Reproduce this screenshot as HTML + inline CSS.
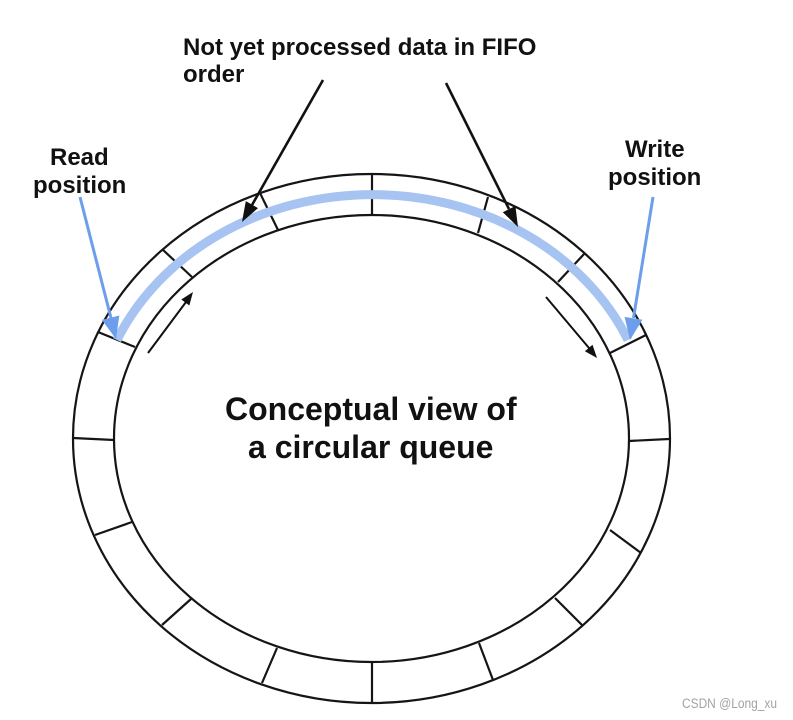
<!DOCTYPE html>
<html>
<head>
<meta charset="utf-8">
<style>
  html, body { margin: 0; padding: 0; background: #ffffff; }
  body { width: 793px; height: 720px; overflow: hidden; }
  svg { display: block; }
</style>
</head>
<body>
<svg width="793" height="720" viewBox="0 0 793 720" xmlns="http://www.w3.org/2000/svg">
  <rect x="0" y="0" width="793" height="720" fill="#ffffff"/>

  <!-- Ring ellipses -->
  <ellipse cx="371.5" cy="438.5" rx="298.5" ry="264.5" fill="none" stroke="#151515" stroke-width="2.2"/>
  <ellipse cx="371.5" cy="438.5" rx="257.5" ry="223.5" fill="none" stroke="#151515" stroke-width="2.2"/>

  <!-- Dividers -->
  <g stroke="#151515" stroke-width="2.2" stroke-linecap="butt">
    <line x1="372" y1="174" x2="372" y2="215"/>
    <line x1="260" y1="193" x2="278" y2="230"/>
    <line x1="162" y1="249" x2="192" y2="277"/>
    <line x1="98" y1="332" x2="135" y2="347"/>
    <line x1="73" y1="438" x2="114" y2="440"/>
    <line x1="95" y1="535" x2="132" y2="522"/>
    <line x1="162" y1="625" x2="191" y2="599"/>
    <line x1="262" y1="683" x2="277" y2="648"/>
    <line x1="372" y1="703" x2="372" y2="663"/>
    <line x1="493" y1="680" x2="479" y2="643"/>
    <line x1="582" y1="625" x2="555" y2="598"/>
    <line x1="641" y1="553" x2="610" y2="530"/>
    <line x1="669" y1="439" x2="629" y2="441"/>
    <line x1="646" y1="335" x2="610" y2="353"/>
    <line x1="585" y1="253" x2="558" y2="282"/>
    <line x1="488" y1="197" x2="478" y2="233"/>
  </g>

  <!-- Blue data arc -->
  <path d="M 117 340 A 278.5 241.5 0 0 1 628 340" fill="none" stroke="#a6c3f2" stroke-width="9" stroke-linecap="butt"/>

  <!-- Read position arrow -->
  <line x1="80" y1="197" x2="111" y2="318" stroke="#6d9eeb" stroke-width="3"/>
  <polygon points="116,339 119.3,315.5 101.9,319.9" fill="#6d9eeb"/>

  <!-- Write position arrow -->
  <line x1="653" y1="197" x2="633.5" y2="318" stroke="#6d9eeb" stroke-width="3"/>
  <polygon points="630,340 642.4,319.7 624.6,316.9" fill="#6d9eeb"/>

  <!-- Black label arrows -->
  <line x1="323" y1="80" x2="252" y2="205" stroke="#111" stroke-width="2.6"/>
  <polygon points="242,222 258,208.1 245.8,201.1" fill="#111"/>
  <line x1="446" y1="83" x2="509" y2="209" stroke="#111" stroke-width="2.6"/>
  <polygon points="518,227 515.4,206 502.8,212.2" fill="#111"/>

  <!-- Small direction arrows -->
  <line x1="148" y1="353" x2="186" y2="302" stroke="#111" stroke-width="2"/>
  <polygon points="193,292 189.3,305.5 181.3,299.5" fill="#111"/>
  <line x1="546" y1="297" x2="589" y2="348" stroke="#111" stroke-width="2"/>
  <polygon points="597,358 592.5,344.8 584.9,351.2" fill="#111"/>

  <!-- Labels -->
  <g font-family="'Liberation Sans', Arial, sans-serif" font-weight="bold" fill="#111">
    <text x="183" y="55" font-size="24">Not yet processed data in FIFO</text>
    <text x="183" y="82" font-size="24">order</text>
    <text x="50" y="165" font-size="24">Read</text>
    <text x="33" y="193" font-size="24">position</text>
    <text x="625" y="157" font-size="24">Write</text>
    <text x="608" y="185" font-size="24">position</text>
    <text x="225" y="420" font-size="32">Conceptual view of</text>
    <text x="248" y="458" font-size="32">a circular queue</text>
  </g>

  <!-- Watermark -->
  <text x="682" y="708" font-family="'Liberation Sans', Arial, sans-serif" font-size="13.5" fill="#a3a3a3" textLength="95" lengthAdjust="spacingAndGlyphs">CSDN @Long_xu</text>
</svg>
</body>
</html>
